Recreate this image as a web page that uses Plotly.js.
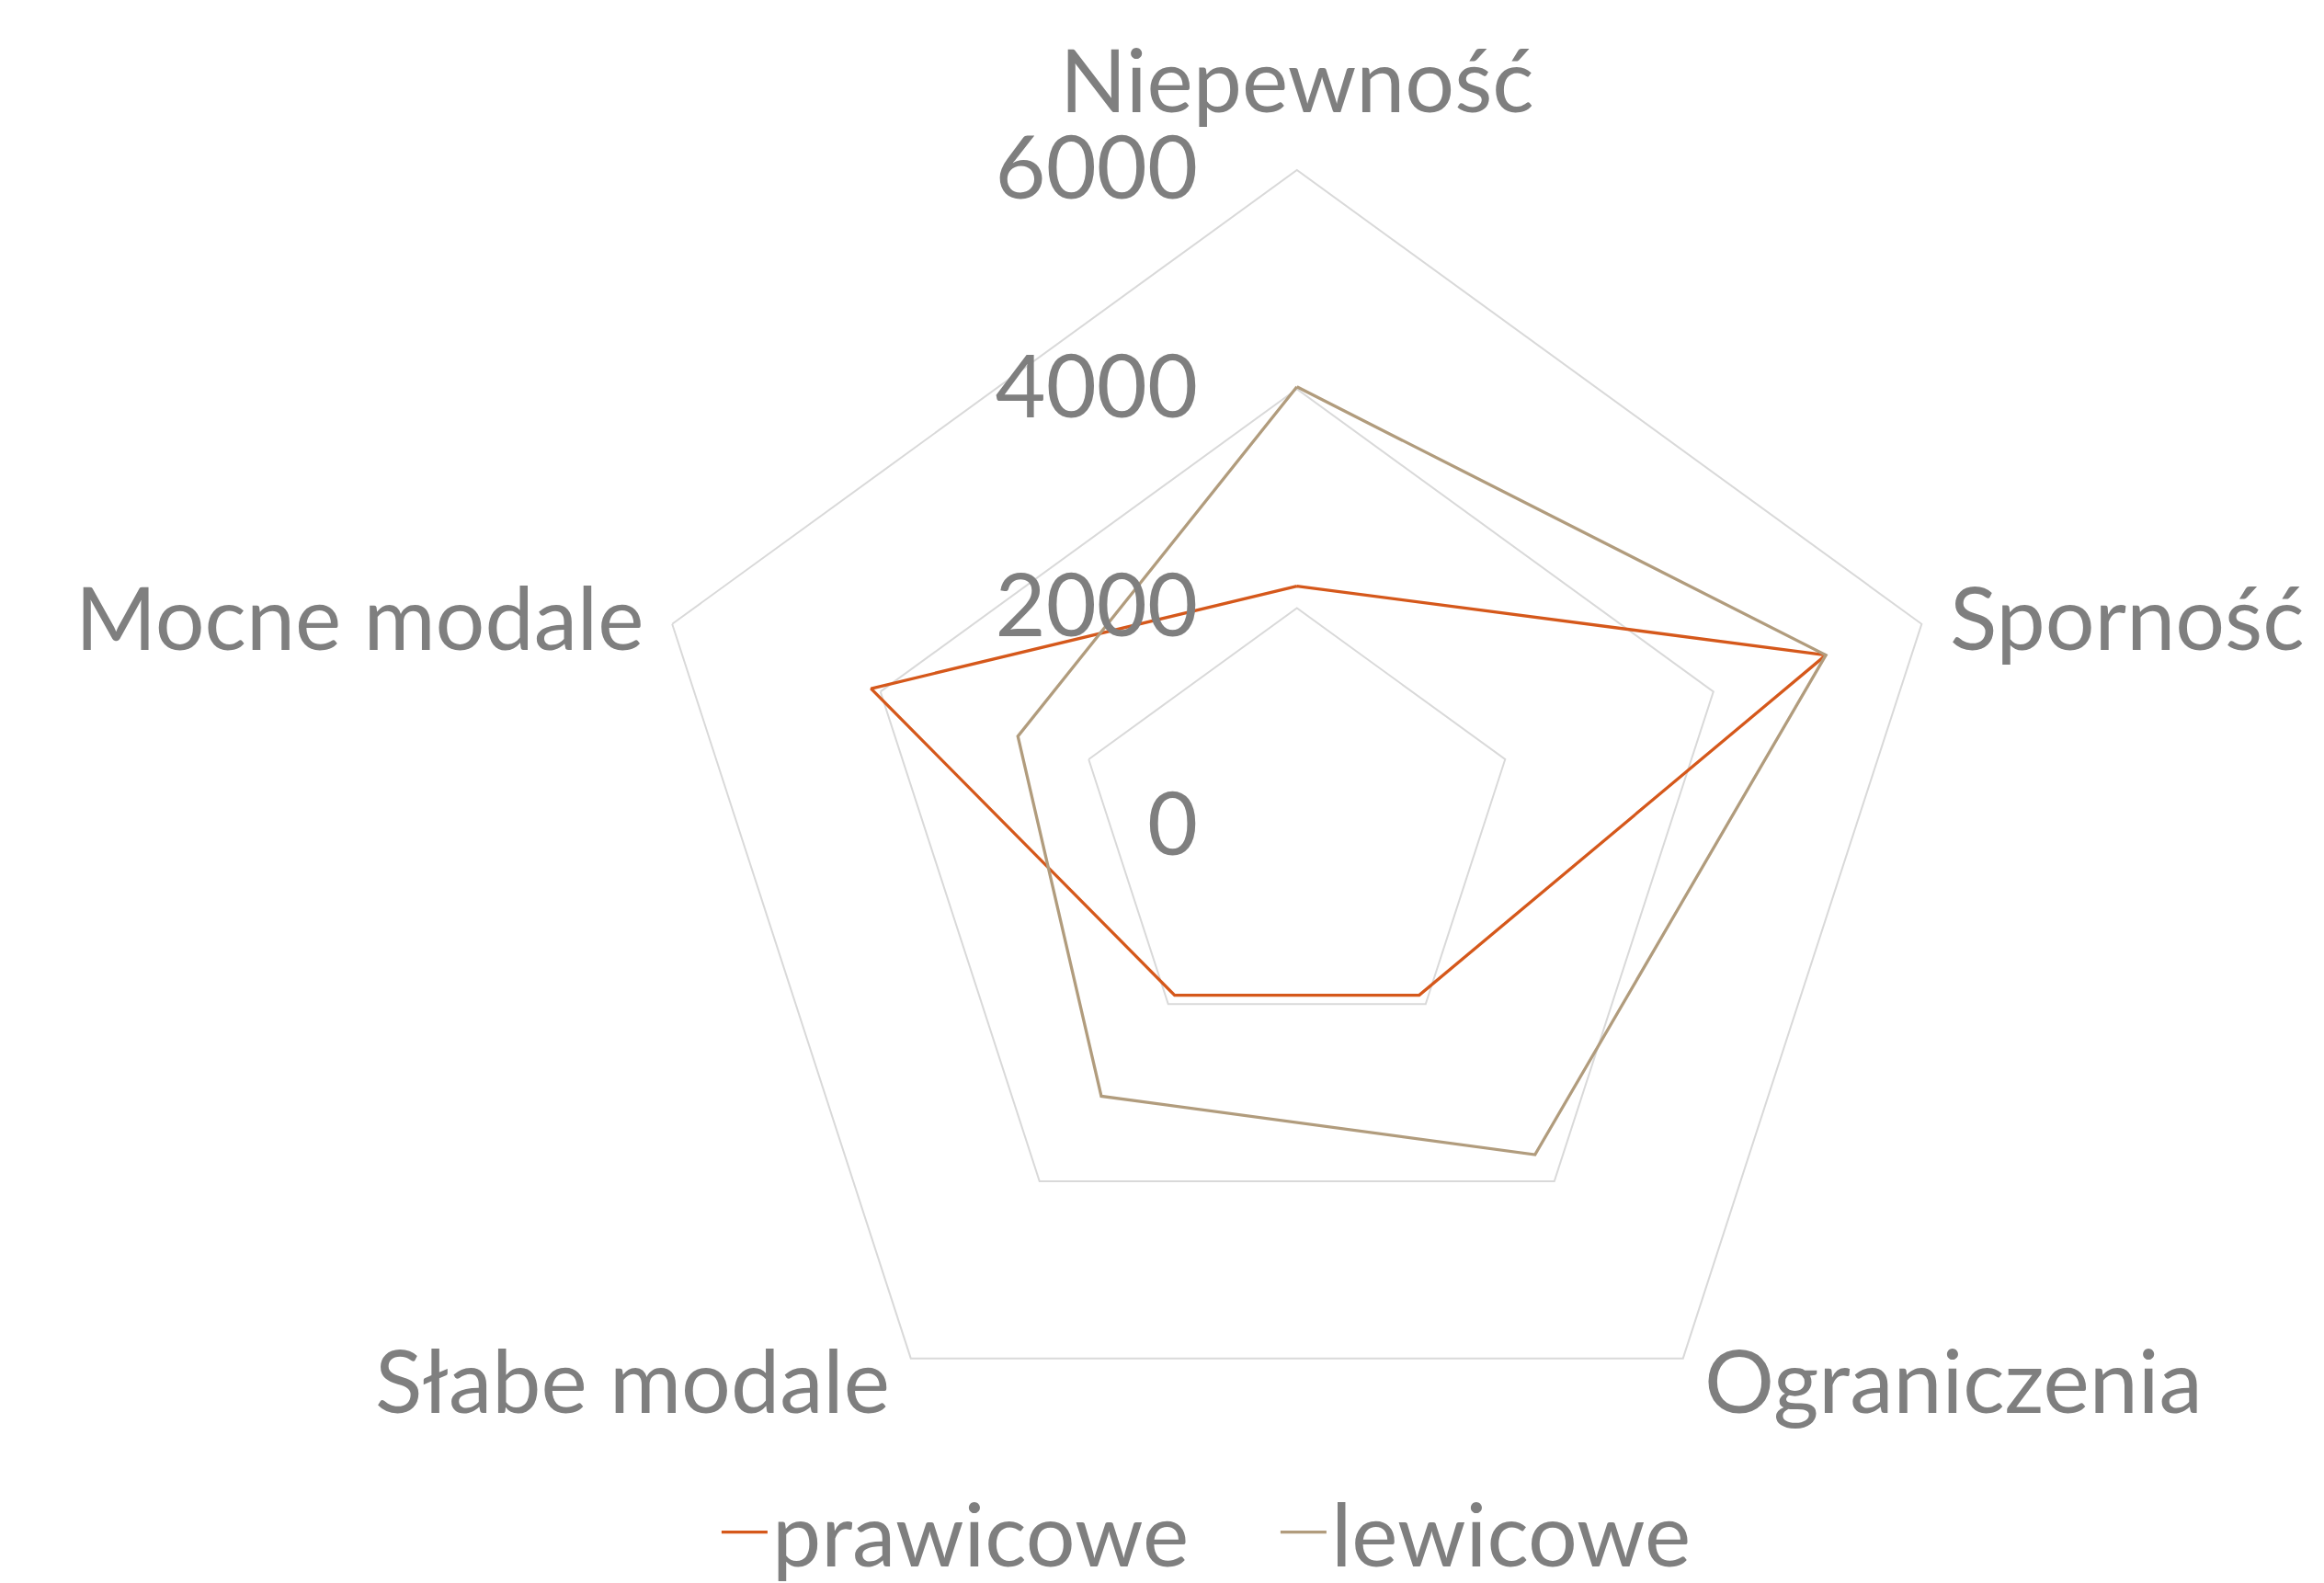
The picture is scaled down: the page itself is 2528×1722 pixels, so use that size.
<!DOCTYPE html>
<html>
<head>
<meta charset="utf-8">
<script src="https://cdn.plot.ly/plotly-3.0.1.min.js"></script>
<style>html,body{margin:0;padding:0;background:#fff;}#chart{width:2528px;height:1722px;}</style>
</head>
<body>
<div id="chart"></div>
<script>
const categories = ['Niepewność', 'Sporność', 'Ograniczenia', 'Słabe modale', 'Mocne modale'];
const seriesNames = ['prawicowe', 'lewicowe'];
const prawicowe = [2200, 5080, 1900, 1900, 4090];
const lewicowe = [4020, 5080, 3700, 3040, 2680];
const radialTicks = [0, 2000, 4000, 6000];
const colors = ['#D5581B', '#B19C7D'];

const FONT = 'Lato, "Open Sans", sans-serif';
const TXT = '#7f7f7f';
const FS = 95;

const W = 2528, H = 1722;
const domX = [0.2754, 0.8407], domY = [0.0626, 0.8926];

function closed(arr) { return arr.concat([arr[0]]); }

const data = [prawicowe, lewicowe].map((vals, i) => ({
  type: 'scatterpolar',
  mode: 'lines',
  name: seriesNames[i],
  r: closed(vals),
  theta: closed(categories),
  line: {color: colors[i], width: 3.3},
  hoverinfo: 'skip'
}));

// category labels placed just outside each vertex of the polar frame
const cxPaper = (domX[0] + domX[1]) / 2, cyPaper = (domY[0] + domY[1]) / 2;
const Rpx = (domX[1] - domX[0]) * W / 2;
const annotations = categories.map((c, i) => {
  const a = (90 - 360 / categories.length * i) * Math.PI / 180;
  const cos = Math.cos(a), sin = Math.sin(a);
  const x = cxPaper + Rpx * cos / W;
  const y = cyPaper + Rpx * sin / H;
  let xanchor = 'center', xshift = 0, yshift = 0;
  if (Math.abs(cos) < 0.1) { yshift = 100; }
  else {
    xanchor = cos > 0 ? 'left' : 'right';
    const upper = sin > 0;
    xshift = (cos > 0 ? 1 : -1) * (upper ? 29 : 21);
    yshift = upper ? 9 : -22;
  }
  return {
    xref: 'paper', yref: 'paper', x: x, y: y,
    text: c, showarrow: false,
    xanchor: xanchor, yanchor: 'middle',
    xshift: xshift, yshift: yshift,
    font: {family: FONT, size: FS, color: TXT}
  };
});

const layout = {
  width: W,
  height: H,
  margin: {l: 0, r: 0, t: 0, b: 0, autoexpand: false},
  paper_bgcolor: '#ffffff',
  font: {family: FONT, color: TXT, size: FS},
  showlegend: true,
  legend: {
    orientation: 'h',
    x: 0.3085, xanchor: 'left',
    y: 0.032, yanchor: 'middle',
    font: {family: FONT, size: FS, color: TXT},
    itemwidth: 50,
    entrywidth: 543,
    bgcolor: 'rgba(0,0,0,0)'
  },
  annotations: annotations,
  polar: {
    domain: {x: domX, y: domY},
    bgcolor: '#ffffff',
    gridshape: 'linear',
    radialaxis: {
      range: [0, 6000],
      tickvals: radialTicks,
      ticktext: radialTicks.map(String),
      showline: false,
      showgrid: true,
      gridcolor: '#d9d9d9',
      gridwidth: 2,
      angle: 90,
      tickangle: 90,
      side: 'counterclockwise',
      ticks: 'outside',
      ticklen: 74,
      tickcolor: 'rgba(0,0,0,0)',
      tickfont: {family: FONT, size: FS, color: TXT}
    },
    angularaxis: {
      type: 'category',
      categoryarray: categories,
      rotation: 90,
      direction: 'clockwise',
      showgrid: false,
      showline: true,
      linecolor: '#d9d9d9',
      linewidth: 2,
      showticklabels: false,
      ticks: ''
    }
  }
};

Plotly.newPlot('chart', data, layout, {displayModeBar: false, staticPlot: true});
</script>
</body>
</html>
